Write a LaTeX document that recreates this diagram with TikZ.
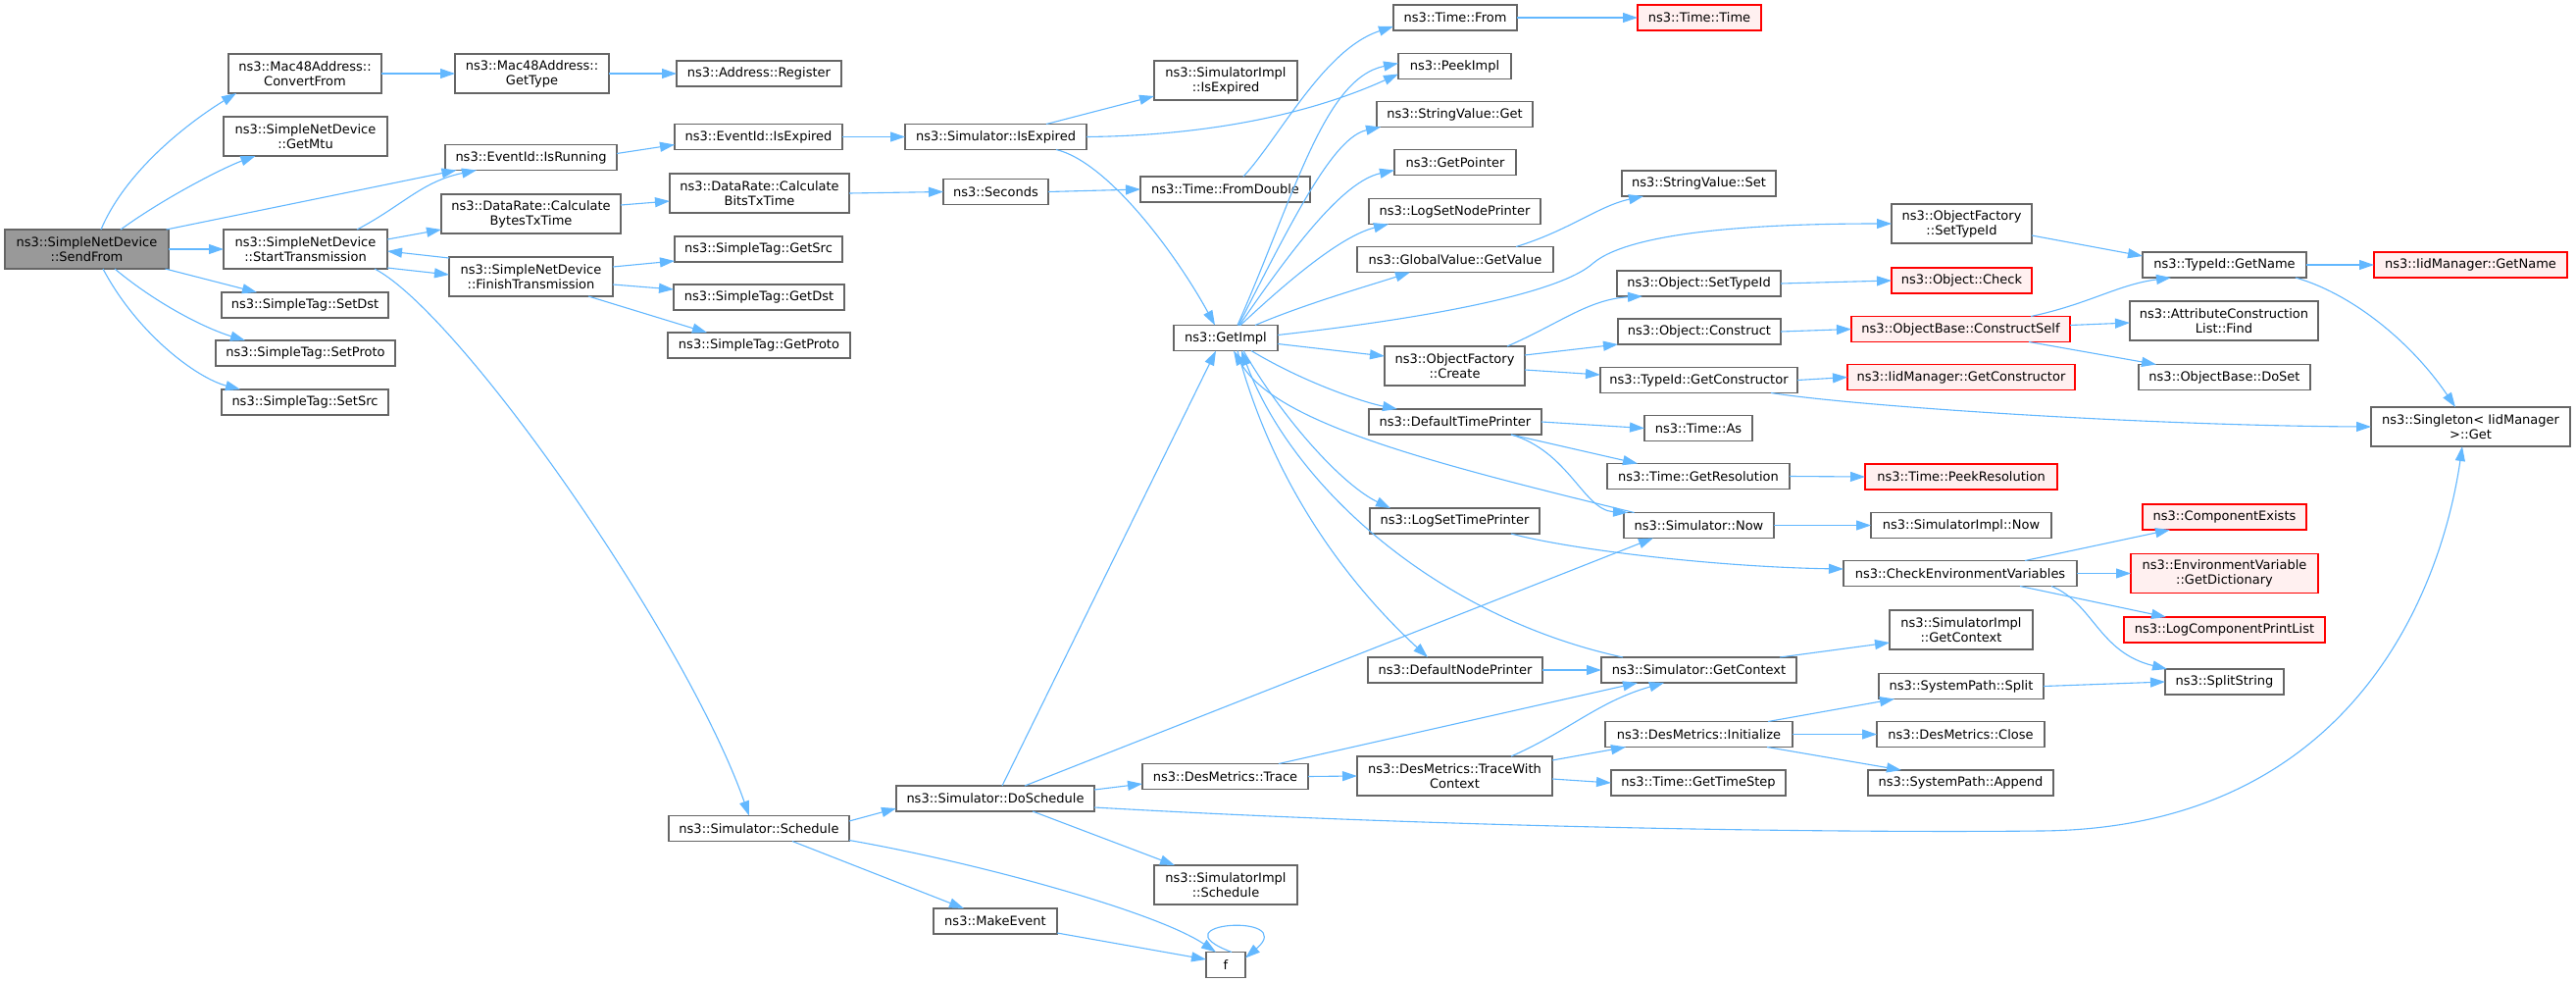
\documentclass[tikz,border=0pt]{standalone}
\usepackage{fontspec}
\setmainfont{DejaVu Sans}
\usetikzlibrary{arrows.meta}
\definecolor{edgeblue}{HTML}{63B8FF}
\definecolor{boxborder}{HTML}{666666}
\definecolor{redfill}{HTML}{FFF0F0}
\definecolor{redborder}{HTML}{FF0000}
\definecolor{sendfill}{HTML}{999999}
\tikzset{
  box/.style={draw=boxborder, line width=1.2pt, fill=white, inner sep=0pt, outer sep=0pt,
    minimum height=26pt, align=center, font=\fontsize{13}{15}\selectfont},
  dbl/.style={minimum height=40pt},
  redbox/.style={draw=redborder, fill=redfill},
  startbox/.style={fill=sendfill},
  edge/.style={draw=edgeblue, line width=1.1pt, -{Triangle[length=15pt,width=10pt]}}
}
\begin{document}
\begin{tikzpicture}[x=1pt,y=-1pt]
\fill[white] (0,0) rectangle (2627,1001);
\path[use as bounding box] (0,0) rectangle (2627,1001);
% column 0
\node[box,dbl,startbox,minimum width=167pt] (sendfrom) at (88.5,254) {ns3::SimpleNetDevice\\::SendFrom};
% column 1
\node[box,dbl,minimum width=156pt] (convfrom) at (311,75) {ns3::Mac48Address::\\ConvertFrom};
\node[box,dbl,minimum width=167pt] (getmtu) at (311.5,139) {ns3::SimpleNetDevice\\::GetMtu};
\node[box,dbl,minimum width=167pt] (starttx) at (311.5,254) {ns3::SimpleNetDevice\\::StartTransmission};
\node[box,minimum width=170pt] (setdst) at (311,311) {ns3::SimpleTag::SetDst};
\node[box,minimum width=183pt] (setproto) at (311.5,360) {ns3::SimpleTag::SetProto};
\node[box,minimum width=170pt] (setsrc) at (311,410) {ns3::SimpleTag::SetSrc};
% column 2
\node[box,dbl,minimum width=157pt] (gettype) at (542.5,75) {ns3::Mac48Address::\\GetType};
\node[box,minimum width=175pt] (isrunning) at (541.5,160.5) {ns3::EventId::IsRunning};
\node[box,dbl,minimum width=183pt] (calcbytes) at (541.5,218) {ns3::DataRate::Calculate\\BytesTxTime};
\node[box,dbl,minimum width=167pt] (finishtx) at (541.5,282) {ns3::SimpleNetDevice\\::FinishTransmission};
% column 3
\node[box,minimum width=168pt] (register) at (774,75) {ns3::Address::Register};
\node[box,minimum width=171pt] (evisexpired) at (773.5,139.5) {ns3::EventId::IsExpired};
\node[box,dbl,minimum width=183pt] (calcbits) at (774.5,197) {ns3::DataRate::Calculate\\BitsTxTime};
\node[box,minimum width=171pt] (getsrc) at (773.5,254) {ns3::SimpleTag::GetSrc};
\node[box,minimum width=174pt] (getdst) at (774,303) {ns3::SimpleTag::GetDst};
\node[box,minimum width=186pt] (getproto) at (774,352) {ns3::SimpleTag::GetProto};
\node[box,minimum width=184pt] (schedule) at (774,844.5) {ns3::Simulator::Schedule};
% column 4
\node[box,minimum width=185pt] (simisexpired) at (1015.5,139.5) {ns3::Simulator::IsExpired};
\node[box,minimum width=107pt] (seconds) at (1015.5,195.5) {ns3::Seconds};
\node[box,minimum width=202pt] (doschedule) at (1015,814) {ns3::Simulator::DoSchedule};
\node[box,minimum width=126pt] (makeevent) at (1015,939) {ns3::MakeEvent};
% column 5
\node[box,dbl,minimum width=146pt] (implisexpired) at (1250,82) {ns3::SimulatorImpl\\::IsExpired};
\node[box,minimum width=173pt] (fromdouble) at (1249.5,193) {ns3::Time::FromDouble};
\node[box,minimum width=106pt] (getimpl) at (1250,344.5) {ns3::GetImpl};
\node[box,minimum width=169pt] (destrace) at (1249.5,791.5) {ns3::DesMetrics::Trace};
\node[box,dbl,minimum width=146pt] (implschedule) at (1250,902) {ns3::SimulatorImpl\\::Schedule};
\node[box,minimum width=40pt] (ff) at (1250,983.5) {f};
% column 6
\node[box,minimum width=126pt] (timefrom) at (1484,18) {ns3::Time::From};
\node[box,minimum width=115pt] (peekimpl) at (1483.5,67.5) {ns3::PeekImpl};
\node[box,minimum width=159pt] (svget) at (1483.5,116.5) {ns3::StringValue::Get};
\node[box,minimum width=124pt] (getpointer) at (1484,165.5) {ns3::GetPointer};
\node[box,minimum width=175pt] (logsetnode) at (1483.5,215.5) {ns3::LogSetNodePrinter};
\node[box,minimum width=200pt] (gvgetvalue) at (1484,264.5) {ns3::GlobalValue::GetValue};
\node[box,dbl,minimum width=143pt] (ofcreate) at (1483.5,373) {ns3::ObjectFactory\\::Create};
\node[box,minimum width=176pt] (deftimeprinter) at (1484,430) {ns3::DefaultTimePrinter};
\node[box,minimum width=173pt] (logsettime) at (1483.5,531) {ns3::LogSetTimePrinter};
\node[box,minimum width=178pt] (defnodeprinter) at (1484,683) {ns3::DefaultNodePrinter};
\node[box,dbl,minimum width=199pt] (tracewith) at (1483.5,791) {ns3::DesMetrics::TraceWith\\Context};
% column 7
\node[box,redbox,minimum width=126pt] (timetime) at (1733,18) {ns3::Time::Time};
\node[box,minimum width=157pt] (svset) at (1732.5,187) {ns3::StringValue::Set};
\node[box,minimum width=167pt] (objsettypeid) at (1732.5,289) {ns3::Object::SetTypeId};
\node[box,minimum width=166pt] (objconstruct) at (1733,338) {ns3::Object::Construct};
\node[box,minimum width=201pt] (getconstructor) at (1732.5,387.5) {ns3::TypeId::GetConstructor};
\node[box,minimum width=110pt] (timeas) at (1732,436.5) {ns3::Time::As};
\node[box,minimum width=186pt] (getresolution) at (1732,485.5) {ns3::Time::GetResolution};
\node[box,minimum width=153pt] (simnow) at (1732.5,535.5) {ns3::Simulator::Now};
\node[box,minimum width=199pt] (simgetcontext) at (1732.5,683) {ns3::Simulator::GetContext};
\node[box,minimum width=191pt] (desinit) at (1732.5,748.5) {ns3::DesMetrics::Initialize};
\node[box,minimum width=178pt] (gettimestep) at (1732,798) {ns3::Time::GetTimeStep};
% column 8
\node[box,dbl,minimum width=143pt] (ofsettypeid) at (2000.5,228) {ns3::ObjectFactory\\::SetTypeId};
\node[box,redbox,minimum width=143pt] (objcheck) at (2000.5,286) {ns3::Object::Check};
\node[box,redbox,minimum width=223pt] (constructself) at (1999.5,335.5) {ns3::ObjectBase::ConstructSelf};
\node[box,redbox,minimum width=232pt] (iidgetconstructor) at (2000,384.5) {ns3::IidManager::GetConstructor};
\node[box,redbox,minimum width=196pt] (peekres) at (2000,486) {ns3::Time::PeekResolution};
\node[box,minimum width=184pt] (implnow) at (2000,535.5) {ns3::SimulatorImpl::Now};
\node[box,minimum width=238pt] (checkenv) at (1999,584.5) {ns3::CheckEnvironmentVariables};
\node[box,dbl,minimum width=146pt] (implgetcontext) at (2000,642) {ns3::SimulatorImpl\\::GetContext};
\node[box,minimum width=168pt] (split) at (2000,699.5) {ns3::SystemPath::Split};
\node[box,minimum width=171pt] (close) at (1999.5,748.5) {ns3::DesMetrics::Close};
\node[box,minimum width=189pt] (append) at (1999.5,798) {ns3::SystemPath::Append};
% column 9
\node[box,minimum width=167pt] (typeidgetname) at (2268.5,270) {ns3::TypeId::GetName};
\node[box,dbl,minimum width=192pt] (attrfind) at (2268,327) {ns3::AttributeConstruction\\List::Find};
\node[box,minimum width=175pt] (doset) at (2268.5,384.5) {ns3::ObjectBase::DoSet};
\node[box,redbox,minimum width=167pt] (compexists) at (2268.5,527) {ns3::ComponentExists};
\node[box,dbl,redbox,minimum width=191pt] (getdict) at (2268.5,584.5) {ns3::EnvironmentVariable\\::GetDictionary};
\node[box,redbox,minimum width=205pt] (logcompprint) at (2268.5,642) {ns3::LogComponentPrintList};
\node[box,minimum width=121pt] (splitstring) at (2268.5,695) {ns3::SplitString};
% column 10
\node[box,redbox,minimum width=197pt] (iidgetname) at (2519.5,270) {ns3::IidManager::GetName};
\node[box,dbl,minimum width=203pt] (singleton) at (2519.5,435) {ns3::Singleton< IidManager\\>::Get};

% ---------- edges ----------
\draw[edge] ([xshift=14.5pt]sendfrom.north) .. controls (130,170) and (200,120) .. ([xshift=-70pt]convfrom.south);
\draw[edge] ([xshift=34.5pt]sendfrom.north) .. controls (170,200) and (230,170) .. ([xshift=-51pt]getmtu.south);
\draw[edge] ([xshift=81pt]sendfrom.north) -- ([xshift=-76pt]isrunning.south);
\draw[edge] (sendfrom.east) -- (starttx.west);
\draw[edge] ([xshift=80pt]sendfrom.south) -- ([xshift=-49pt]setdst.north);
\draw[edge] ([xshift=28.5pt]sendfrom.south) .. controls (160,310) and (210,335) .. ([xshift=-61.5pt]setproto.north);
\draw[edge] ([xshift=16.5pt]sendfrom.south) .. controls (140,340) and (200,385) .. ([xshift=-66pt]setsrc.north);
\draw[edge] (convfrom.east) -- (gettype.west);
\draw[edge] (gettype.east) -- (register.west);
\draw[edge] ([xshift=52.5pt]starttx.north) .. controls (410,210) and (430,185) .. ([xshift=-55.5pt]isrunning.south);
\draw[edge] ([yshift=10pt]starttx.east) -- ([yshift=-16pt]calcbytes.west);
\draw[edge] ([yshift=-19pt]starttx.east) -- ([yshift=2pt]finishtx.west);
\draw[edge] ([yshift=19pt]finishtx.west) -- ([yshift=-2pt]starttx.east);
\draw[edge] ([xshift=70.5pt]starttx.south) .. controls (470,320) and (700,650) .. ([xshift=-10pt]schedule.north);
\draw[edge] ([yshift=10pt]finishtx.east) -- ([yshift=-12pt]getsrc.west);
\draw[edge] ([yshift=-8pt]finishtx.east) -- ([yshift=8pt]getdst.west);
\draw[edge] ([xshift=58.5pt]finishtx.south) -- ([xshift=-53pt]getproto.north);
\draw[edge] ([yshift=4pt]isrunning.east) -- ([yshift=-8pt]evisexpired.west);
\draw[edge] ([yshift=9pt]calcbytes.east) -- ([yshift=-8pt]calcbits.west);
\draw[edge] (evisexpired.east) -- (simisexpired.west);
\draw[edge] (calcbits.east) -- (seconds.west);
\draw[edge] ([xshift=51.5pt]simisexpired.north) -- ([yshift=-16pt]implisexpired.west);
\draw[edge] (simisexpired.east) .. controls (1250,138) and (1350,110) .. ([yshift=-8pt]peekimpl.west);
\draw[edge] ([xshift=61.5pt]simisexpired.south) .. controls (1130,165) and (1200,260) .. ([xshift=-11pt]getimpl.north);
\draw[edge] (seconds.east) -- (fromdouble.west);
\draw[edge] ([xshift=18.5pt]fromdouble.north) .. controls (1305,140) and (1350,50) .. ([yshift=-9pt]timefrom.west);
\draw[edge] (timefrom.east) -- (timetime.west);
% GetImpl outgoing
\draw[edge] ([xshift=12pt]getimpl.north) .. controls (1320,200) and (1350,80) .. ([yshift=3pt]peekimpl.west);
\draw[edge] ([xshift=13pt]getimpl.north) .. controls (1320,220) and (1360,140) .. ([xshift=4pt]svget.south west);
\draw[edge] ([xshift=14pt]getimpl.north) .. controls (1320,250) and (1370,185) .. ([yshift=-8pt]getpointer.west);
\draw[edge] ([xshift=15pt]getimpl.north) .. controls (1320,280) and (1370,240) .. ([xshift=20pt]logsetnode.south west);
\draw[edge] ([xshift=30pt]getimpl.north) .. controls (1330,310) and (1400,290) .. ([xshift=-46pt]gvgetvalue.south);
\draw[edge] ([yshift=3pt]getimpl.east) .. controls (1450,325) and (1590,300) .. (1625,268) .. controls (1665,235) and (1800,228) .. (ofsettypeid.west);
\draw[edge] ([yshift=-6pt]getimpl.east) -- ([yshift=10pt]ofcreate.west);
\draw[edge] ([xshift=26pt]getimpl.south) .. controls (1330,390) and (1390,410) .. ([xshift=29pt]deftimeprinter.north west);
\draw[edge] ([xshift=18pt]getimpl.south) .. controls (1310,430) and (1370,495) .. ([xshift=21pt]logsettime.north west);
\draw[edge] ([xshift=12pt]getimpl.south) .. controls (1300,500) and (1380,600) .. ([xshift=61pt]defnodeprinter.north west);
% GetImpl incoming
\draw[edge] ([xshift=7pt]doschedule.north) -- ([xshift=-10pt]getimpl.south);
\draw[edge] ([xshift=-66pt]simnow.north) .. controls (1450,470) and (1300,430) .. ([xshift=8pt]getimpl.south);
\draw[edge] ([xshift=-77.5pt]simgetcontext.north) .. controls (1470,630) and (1320,500) .. ([xshift=16pt]getimpl.south);
% upper right
\draw[edge] ([xshift=62pt]gvgetvalue.north) .. controls (1600,235) and (1630,210) .. ([xshift=-56.5pt]svset.south);
\draw[edge] ([xshift=53.5pt]ofcreate.north) .. controls (1590,330) and (1620,305) .. ([xshift=-57.5pt]objsettypeid.south);
\draw[edge] ([yshift=11pt]ofcreate.east) -- ([yshift=-13pt]objconstruct.west);
\draw[edge] ([yshift=-4pt]ofcreate.east) -- ([yshift=5.5pt]getconstructor.west);
\draw[edge] (objsettypeid.east) -- (objcheck.west);
\draw[edge] (objconstruct.east) -- (constructself.west);
\draw[edge] (getconstructor.east) -- (iidgetconstructor.west);
\draw[edge] ([xshift=73.5pt]getconstructor.south) .. controls (1900,415) and (2200,434) .. (singleton.west);
\draw[edge] ([yshift=-12pt]ofsettypeid.east) -- ([yshift=9pt]typeidgetname.west);
\draw[edge] ([xshift=71.5pt]constructself.north) .. controls (2130,310) and (2160,290) .. ([xshift=-54.5pt]typeidgetname.south);
\draw[edge] ([yshift=4pt]constructself.east) -- ([yshift=-2pt]attrfind.west);
\draw[edge] ([xshift=69.5pt]constructself.south) -- ([xshift=18pt]doset.north west);
\draw[edge] (typeidgetname.east) -- (iidgetname.west);
\draw[edge] ([xshift=72.5pt]typeidgetname.south) .. controls (2400,300) and (2460,350) .. ([xshift=-15.5pt]singleton.north);
% lower part
\draw[edge] ([yshift=-9pt]doschedule.east) .. controls (1500,845) and (1900,849) .. (2080,847) .. controls (2400,845) and (2490,600) .. ([xshift=-8.5pt]singleton.south);
\draw[edge] ([xshift=38pt]doschedule.south) -- ([xshift=-52pt]implschedule.north);
\draw[edge] ([xshift=30pt]doschedule.north) -- ([xshift=-46.5pt]simnow.south);
\draw[edge] ([yshift=9pt]doschedule.east) -- ([yshift=-7.5pt]destrace.west);
\draw[edge] ([yshift=7.5pt]schedule.east) -- ([yshift=-10pt]doschedule.west);
\draw[edge] ([xshift=34pt]schedule.south) -- ([xshift=-32pt]makeevent.north);
\draw[edge] ([yshift=-12pt]schedule.east) .. controls (1000,880) and (1180,930) .. ([xshift=-10pt]ff.north);
\draw[edge] ([yshift=-12pt]makeevent.east) -- ([yshift=5.5pt]ff.west);
\draw[edge] ([xshift=6pt]ff.north) .. controls (1175,940) and (1325,930) .. ([yshift=7pt]ff.east);
\draw[edge] (deftimeprinter.east) -- (timeas.west);
\draw[edge] ([xshift=57pt]deftimeprinter.south) -- ([xshift=-62pt]getresolution.north);
\draw[edge] ([xshift=57pt]deftimeprinter.south) .. controls (1600,460) and (1615,520) .. ([xshift=-72.5pt]simnow.north);
\draw[edge] (getresolution.east) -- (peekres.west);
\draw[edge] (simnow.east) -- (implnow.west);
\draw[edge] ([xshift=57.5pt]logsettime.south) .. controls (1600,560) and (1750,578) .. ([yshift=4.5pt]checkenv.west);
\draw[edge] (defnodeprinter.east) -- (simgetcontext.west);
\draw[edge] ([xshift=82.5pt]simgetcontext.north) -- ([yshift=-13pt]implgetcontext.west);
\draw[edge] ([xshift=54.5pt]destrace.north) -- ([xshift=-62.5pt]simgetcontext.south);
\draw[edge] (destrace.east) -- (tracewith.west);
\draw[edge] ([xshift=57.5pt]tracewith.north) .. controls (1600,745) and (1630,715) .. ([xshift=-35.5pt]simgetcontext.south);
\draw[edge] ([yshift=16pt]tracewith.east) -- ([xshift=21pt]desinit.south west);
\draw[edge] ([yshift=-3pt]tracewith.east) -- (gettimestep.west);
\draw[edge] ([xshift=70.5pt]desinit.north) -- ([xshift=16pt]split.south west);
\draw[edge] (desinit.east) -- (close.west);
\draw[edge] ([xshift=69.5pt]desinit.south) -- ([xshift=34pt]append.north west);
\draw[edge] (split.east) -- (splitstring.west);
\draw[edge] ([xshift=66pt]checkenv.north) -- ([xshift=28pt]compexists.south west);
\draw[edge] (checkenv.east) -- (getdict.west);
\draw[edge] ([xshift=61pt]checkenv.south) -- ([xshift=43pt]logcompprint.north west);
\draw[edge] ([xshift=93pt]checkenv.south) .. controls (2135,615) and (2140,665) .. ([xshift=2pt]splitstring.north west);
\end{tikzpicture}
\end{document}
